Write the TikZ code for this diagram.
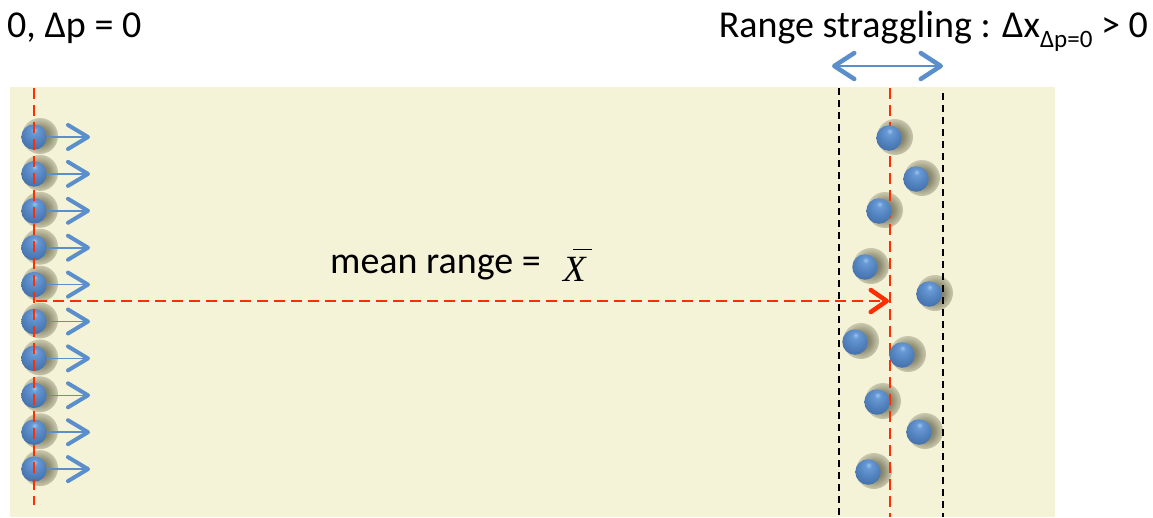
\documentclass[tikz,border=0pt]{standalone}
\usepackage{fontspec}
\setmainfont{Carlito}
\newfontfamily\timesfont{Liberation Serif}
\usetikzlibrary{arrows.meta}
\definecolor{bgy}{RGB}{245,243,215}
\definecolor{shd}{RGB}{120,118,92}
\definecolor{arblue}{RGB}{91,143,204}
\definecolor{rred}{RGB}{255,45,0}
\definecolor{sA}{RGB}{155,198,240}
\definecolor{sB}{RGB}{104,153,212}
\definecolor{sC}{RGB}{80,128,188}
\definecolor{sD}{RGB}{62,104,160}
\definecolor{sE}{RGB}{46,84,132}
\definecolor{sF}{RGB}{70,110,160}
\pgfdeclareradialshading{sphereshade}{\pgfpoint{1bp}{14bp}}{%
  color(0bp)=(sA);
  color(6bp)=(sB);
  color(22bp)=(sC);
  color(38bp)=(sD);
  color(48bp)=(sE);
  color(55bp)=(sF);
  color(70bp)=(sF)}
\pgfdeclareradialshading{shadowshade}{\pgfpoint{0bp}{0bp}}{%
  color(0bp)=(shd);
  color(12bp)=(shd!85!bgy);
  color(22bp)=(shd!45!bgy);
  color(32bp)=(shd!12!bgy);
  color(40bp)=(bgy);
  color(70bp)=(bgy)}
\tikzset{
  ball/.style={circle,minimum size=25.5pt,inner sep=0pt,shading=sphereshade},
  shadowdisc/.style={circle,minimum size=36pt,inner sep=0pt,shading=shadowshade},
  barrow/.style={draw=arblue,line width=1.6pt,-{Straight Barb[length=20pt,width=24pt,line width=4pt,round]}},
  dbarrow/.style={draw=arblue,line width=1.8pt,{Straight Barb[length=20pt,width=26pt,line width=4.5pt,round]}-{Straight Barb[length=20pt,width=26pt,line width=4.5pt,round]}},
  reddash/.style={draw=rred,line width=2.8pt,dash pattern=on 11pt off 6pt},
  blackdash/.style={draw=black,line width=1.8pt,dash pattern=on 7pt off 5pt},
  bigtext/.style={font=\fontsize{38}{40}\selectfont,inner sep=0pt}
}
\begin{document}
\begin{tikzpicture}[x=1pt,y=-1pt]
\useasboundingbox (0,0) rectangle (1153,517);
\fill[bgy] (10,87) rectangle (1055,517);
% texts
\node[bigtext,anchor=base west] (t1) at (7,37) {0, Δp = 0};
\node[bigtext,anchor=base east] (t2) at (1148,37) {Range straggling : Δx\raisebox{-10pt}{\fontsize{25}{25}\selectfont Δp=0} > 0};
\node[bigtext,anchor=base west] (t3) at (330,273) {mean range =};
\node[inner sep=0pt,anchor=base west] (t4) at (563,281) {\fontsize{37}{37}\timesfont\itshape\makebox[0pt][l]{\hspace{10pt}\raisebox{31pt}{\rule{19pt}{1.3pt}}}X};
% double arrow
\coordinate (da1) at (832,66);
\coordinate (da2) at (943,66);
\draw[dbarrow] (da1) -- (da2);
% shadows
\foreach \i in {0,...,9}{
  \node[shadowdisc] (ls\i) at (40,{136+36.9*\i}) {};
}
\foreach \x/\y [count=\k] in {889/138,916/179,879/211,865/267,929/294,855/342,902/355,877/402,919/432,868/472}{
  \node[shadowdisc] (rs\k) at (\x+6,\y-1) {};
}
% left balls
\foreach \i in {0,...,9}{
  \node[ball] (l\i) at (34,{137+36.9*\i}) {};
}
% left red dashed line
\coordinate (lt) at (34,88);
\coordinate (lb) at (34,505);
\draw[reddash] (lt) -- (lb);
\foreach \i in {0,...,9}{
  \coordinate (la\i) at (90,{137+36.9*\i});
  \draw[barrow] (l\i.east) -- (la\i);
}
% black dashed lines
\coordinate (bl1) at (839,88);
\coordinate (bl2) at (839,517);
\coordinate (br1) at (943,93);
\coordinate (br2) at (943,517);
\draw[blackdash] (bl1) -- (bl2);
\draw[blackdash] (br1) -- (br2);
% right red dashed
\coordinate (rt) at (890,88);
\coordinate (rb) at (890,517);
\draw[reddash] (rt) -- (rb);
% horizontal red arrow
\coordinate (ha1) at (36,301);
\coordinate (ha2) at (889,301);
\draw[reddash,-{Straight Barb[length=16pt,width=22pt,line width=4.5pt,round]}] (ha1) -- (ha2);
% right balls
\foreach \x/\y [count=\k] in {889/138,916/179,879/211,865/267,929/294,855/342,902/355,877/402,919/432,868/472}{
  \node[ball] (r\k) at (\x,\y) {};
}
\end{tikzpicture}
\end{document}
